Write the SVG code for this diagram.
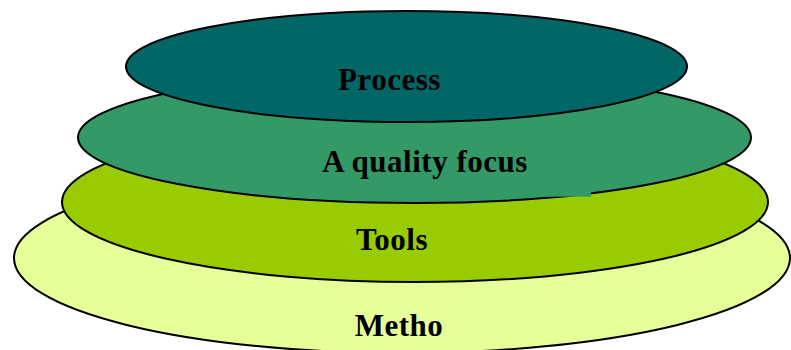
<svg xmlns="http://www.w3.org/2000/svg" width="791" height="350" viewBox="0 0 791 350">
<style>
.layer{stroke:#000;stroke-width:2}
.lbl{font-family:"Liberation Serif","Times New Roman",serif;font-weight:bold;font-size:31px;letter-spacing:0.5px;text-anchor:middle;fill:#000}
</style>
<rect width="791" height="350" fill="#fff"/>
<g id="methods">
<ellipse class="layer" cx="402" cy="258" rx="388" ry="95" fill="#E6FF99"/>
<text class="lbl" x="399" y="336">Metho</text>
</g>
<g id="tools">
<ellipse class="layer" cx="415" cy="202" rx="353" ry="80" fill="#99CC00"/>
<text class="lbl" x="392" y="250">Tools</text>
</g>
<g id="quality-focus">
<ellipse class="layer" cx="414.5" cy="137.5" rx="336.5" ry="65.5" fill="#339966"/>
<rect x="450" y="180" width="141" height="16.7" fill="#339966"/>
<text class="lbl" x="425" y="172">A quality focus</text>
</g>
<g id="process">
<ellipse class="layer" cx="406.5" cy="66.5" rx="280.5" ry="55.5" fill="#006666"/>
<text class="lbl" x="389.5" y="90">Process</text>
</g>
<g id="connectors"></g>
</svg>
